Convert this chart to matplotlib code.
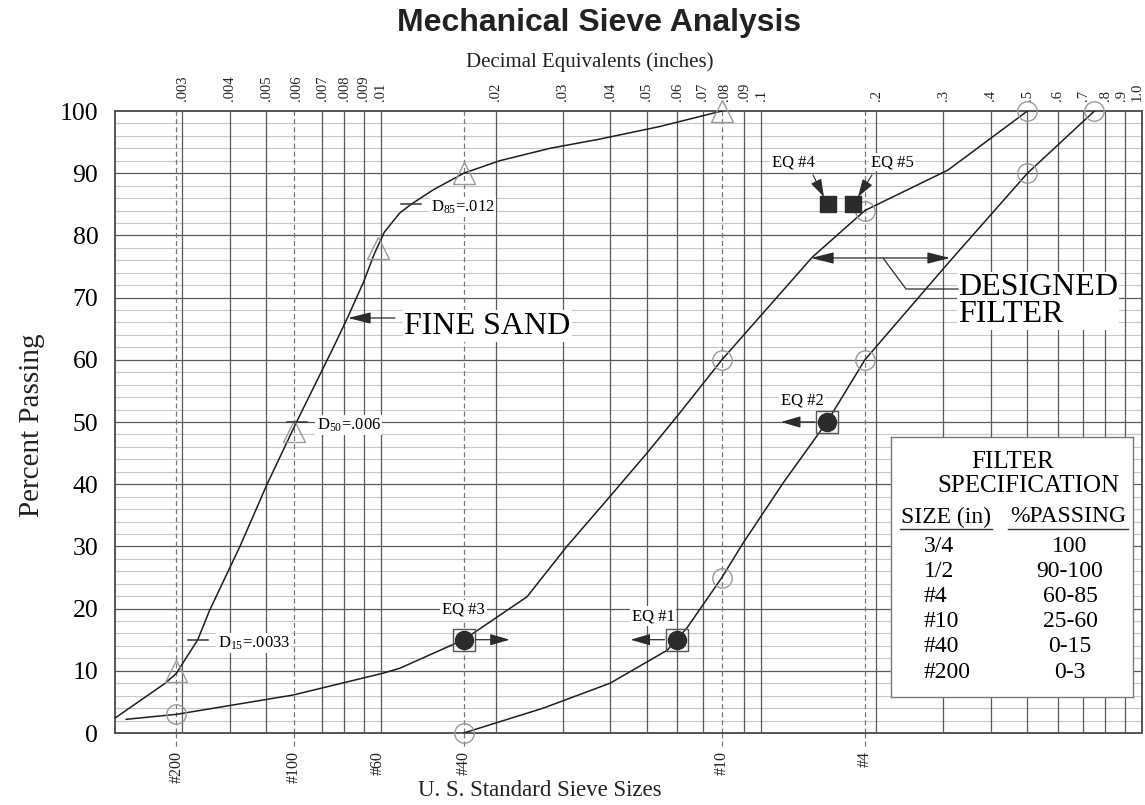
import numpy as np
import matplotlib
matplotlib.use('Agg')
import matplotlib.pyplot as plt

plt.rcParams['font.family'] = ['Liberation Serif', 'DejaVu Serif']
plt.rcParams['mathtext.fontset'] = 'custom'
plt.rcParams['mathtext.rm'] = 'Liberation Serif'
plt.rcParams['mathtext.it'] = 'Liberation Serif:italic'

# ---------------- data ----------------
decimal_ticks = [0.003, 0.004, 0.005, 0.006, 0.007, 0.008, 0.009, 0.01, 0.02, 0.03, 0.04,
                 0.05, 0.06, 0.07, 0.08, 0.09, 0.1, 0.2, 0.3, 0.4, 0.5, 0.6, 0.7, 0.8, 0.9, 1.0]
decimal_labels = ['.003', '.004', '.005', '.006', '.007', '.008', '.009', '.01', '.02', '.03', '.04',
                  '.05', '.06', '.07', '.08', '.09', '.1', '.2', '.3', '.4', '.5', '.6', '.7', '.8', '.9', '1.0']
solid_grid = [0.003, 0.004, 0.005, 0.007, 0.008, 0.009, 0.01, 0.02, 0.03, 0.04, 0.05, 0.06,
              0.07, 0.09, 0.1, 0.2, 0.3, 0.4, 0.5, 0.6, 0.7, 0.8, 0.9]
sieve_labels = ['#200', '#100', '#60', '#40', '#10', '#4']
sieve_sizes = [0.0029, 0.0059, 0.0098, 0.0165, 0.0787, 0.187]
dashed_sieves = [0.0029, 0.0059, 0.0165, 0.0787, 0.187]

sand_size = [0.002, 0.00271, 0.0029, 0.0033, 0.00355, 0.00426, 0.00502, 0.006, 0.0075, 0.0082,
             0.009, 0.0096, 0.0102, 0.0112, 0.012, 0.0137, 0.0165, 0.0205, 0.0278, 0.0377, 0.054, 0.0787]
sand_pct = [2.4, 8.0, 9.6, 15, 19.8, 30, 40, 50, 62, 67, 72.5, 77, 80.5, 83.6, 85, 87.3, 90, 92, 94,
            95.5, 97.5, 100]

filt_fine_size = [0.00214, 0.0029, 0.00587, 0.0101, 0.0112, 0.0165, 0.0242, 0.0308, 0.0393, 0.050,
                  0.0598, 0.0787, 0.136, 0.187, 0.309, 0.5]
filt_fine_pct = [2.2, 3.0, 6.1, 9.6, 10.4, 15, 21.9, 30, 37.5, 45, 50.8, 60, 76.5, 84, 90.5, 100]

filt_coarse_size = [0.0165, 0.0267, 0.040, 0.0565, 0.0637, 0.0787, 0.0894, 0.114, 0.1486, 0.187,
                    0.309, 0.5, 0.75]
filt_coarse_pct = [0, 4, 8, 13.3, 16.9, 25, 30.5, 40.2, 50, 60, 75.5, 90, 100]

spec_circle_size = [0.0029, 0.0165, 0.0787, 0.0787, 0.187, 0.187, 0.5, 0.5, 0.75]
spec_circle_pct = [3, 0, 60, 25, 84, 60, 100, 90, 100]

sand_tri_size = [0.0029, 0.0059, 0.0098, 0.0165, 0.0787]
sand_tri_pct = [10, 48.5, 78, 90, 100]

eq_names = ['EQ #1', 'EQ #2', 'EQ #3']
eq_size = [0.0598, 0.1486, 0.0165]
eq_pct = [15, 50, 15]
eq_dir = [-1, -1, 1]

eq2_names = ['EQ #4', 'EQ #5']
eq2_size = [0.150, 0.174]
eq2_pct = [85, 85]

d_names = [r'D$_{15}$=.0033', r'D$_{50}$=.006', r'D$_{85}$=.012']
d_size = [0.0033, 0.006, 0.012]
d_pct = [15, 50, 85]

spec_sizes = ['3/4', '1/2', '#4', '#10', '#40', '#200']
spec_passing = ['100', '90-100', '60-85', '25-60', '0-15', '0-3']

# ---------------- layout helpers ----------------
W, H = 1145, 805
X0, X1, Y0, Y1 = 115, 1142, 733, 111
PPD = (X1 - X0) / np.log10(1.0 / 0.002)


def px2d(x):
    return 0.002 * 10 ** ((x - X0) / PPD)


def py2p(y):
    return (Y0 - y) / (Y0 - Y1) * 100


fig = plt.figure(figsize=(W / 100, H / 100), dpi=100)
ax = fig.add_axes([X0 / W, (H - Y0) / H, (X1 - X0) / W, (Y0 - Y1) / H])
ax.set_xscale('log')
ax.set_xlim(0.002, 1.0)
ax.set_ylim(0, 100)
ax.xaxis.set_major_locator(matplotlib.ticker.NullLocator())
ax.xaxis.set_minor_locator(matplotlib.ticker.NullLocator())
ax.set_yticks(range(0, 101, 10))
ax.set_yticklabels([str(v) for v in range(0, 101, 10)], fontsize=18.5)
ax.tick_params(axis='y', length=0, pad=12)
for s in ax.spines.values():
    s.set_color('#555555')
    s.set_linewidth(1.4)

grid_col = '#5a5a5a'
for y in range(2, 100, 2):
    if y % 10:
        ax.axhline(y, color='#c8c8c8', lw=0.8, zorder=0)
for y in range(10, 100, 10):
    ax.axhline(y, color=grid_col, lw=0.9, zorder=0.5)
for d in solid_grid:
    ax.axvline(d, color=grid_col, lw=0.9, zorder=0.5)
for d in dashed_sieves:
    ax.axvline(d, color='#777777', lw=0.9, ls=(0, (4, 2.5)), zorder=0.5)
    ax.plot([d, d], [0, -2.6], color='#777777', lw=0.9, ls=(0, (4, 2.5)), clip_on=False)

# top decimal labels (last two nudged apart so they stay readable at the edge)
label_nudge = {'.9': px2d(1121), '1.0': px2d(1137)}
for d, lab in zip(decimal_ticks, decimal_labels):
    xd = label_nudge.get(lab, d)
    ax.text(xd, 100 + 1.6, lab, rotation=90, ha='center', va='bottom', fontsize=10.5,
            color='#222222')
# bottom sieve labels
for d, lab in zip(sieve_sizes, sieve_labels):
    ax.text(d, -2.9, lab, rotation=90, ha='center', va='top', fontsize=11.5, color='#222222')

# curves
lc = '#1e1e1e'
ax.plot(sand_size, sand_pct, color=lc, lw=1.1, zorder=3)
ax.plot(filt_fine_size, filt_fine_pct, color=lc, lw=1.1, zorder=3)
ax.plot(filt_coarse_size, filt_coarse_pct, color=lc, lw=1.1, zorder=3)

ax.plot(spec_circle_size, spec_circle_pct, 'o', mfc='none', mec='#9a9a9a', ms=14, mew=1.0,
        ls='none', clip_on=False, zorder=4)
ax.plot(sand_tri_size, sand_tri_pct, '^', mfc='none', mec='#9a9a9a', ms=16, mew=1.0,
        ls='none', clip_on=False, zorder=4)

# EQ markers 1-3
for name, d, p, dr in zip(eq_names, eq_size, eq_pct, eq_dir):
    ax.plot(d, p, 's', mfc='none', mec='#555555', ms=16, mew=1.0, zorder=5)
    ax.plot(d, p, 'o', color='#2b2b2b', ms=13, zorder=6)
    ax.annotate('', xy=(d * 10 ** (dr * 46 / PPD), p), xytext=(d * 10 ** (dr * 12 / PPD), p),
                arrowprops=dict(arrowstyle='-|>,head_length=1.2,head_width=0.35', color='#2b2b2b',
                                lw=0.9, shrinkA=0, shrinkB=0), zorder=6)
ax.text(0.0165, 19.8, 'EQ #3', ha='center', va='center', fontsize=12,
        bbox=dict(fc='white', ec='none', pad=1.5), zorder=4)
ax.text(px2d(653), py2p(616), 'EQ #1', ha='center', va='center', fontsize=12,
        bbox=dict(fc='white', ec='none', pad=1.5), zorder=4)
ax.text(px2d(802), py2p(400), 'EQ #2', ha='center', va='center', fontsize=12,
        bbox=dict(fc='white', ec='none', pad=1.5), zorder=4)

# EQ 4 & 5
ax.plot(eq2_size, eq2_pct, 's', color='#2b2b2b', ms=12, ls='none', zorder=6)
ax.text(px2d(793), py2p(162), 'EQ #4', ha='center', va='center', fontsize=12,
        bbox=dict(fc='white', ec='none', pad=1), zorder=4)
ax.text(px2d(892), py2p(162), 'EQ #5', ha='center', va='center', fontsize=12,
        bbox=dict(fc='white', ec='none', pad=1), zorder=4)
ax.annotate('', xy=(px2d(824), py2p(197)), xytext=(px2d(813), py2p(175)),
            arrowprops=dict(arrowstyle='-|>,head_length=1.1,head_width=0.35', color='#2b2b2b',
                            lw=0.8, shrinkA=0, shrinkB=0), zorder=6)
ax.annotate('', xy=(px2d(858), py2p(197)), xytext=(px2d(872), py2p(175)),
            arrowprops=dict(arrowstyle='-|>,head_length=1.1,head_width=0.35', color='#2b2b2b',
                            lw=0.8, shrinkA=0, shrinkB=0), zorder=6)

# D labels
for name, d, p in zip(d_names, d_size, d_pct):
    ax.plot([d * 10 ** (-10 / PPD), d * 10 ** (10 / PPD)], [p, p], color='#333333', lw=1.1, zorder=5)
    ax.text(d * 10 ** (20 / PPD), p - 0.5, name, ha='left', va='center', fontsize=12,
            bbox=dict(fc='white', ec='none', pad=1), zorder=4)

# FINE SAND annotation
ax.annotate('', xy=(px2d(348), py2p(318)), xytext=(px2d(395), py2p(318)),
            arrowprops=dict(arrowstyle='-|>,head_length=1.4,head_width=0.35', color='#2b2b2b',
                            lw=0.9, shrinkA=0, shrinkB=0), zorder=6)
ax.text(px2d(404), py2p(326), 'FINE SAND', ha='left', va='center', fontsize=23,
        bbox=dict(fc='white', ec='none', pad=1), zorder=4)

# DESIGNED FILTER annotation
ya = py2p(258)
ax.annotate('', xy=(px2d(811), ya), xytext=(px2d(880), ya),
            arrowprops=dict(arrowstyle='-|>,head_length=1.4,head_width=0.35', color='#2b2b2b',
                            lw=0.9, shrinkA=0, shrinkB=0), zorder=6)
ax.annotate('', xy=(px2d(950), ya), xytext=(px2d(880), ya),
            arrowprops=dict(arrowstyle='-|>,head_length=1.4,head_width=0.35', color='#2b2b2b',
                            lw=0.9, shrinkA=0, shrinkB=0), zorder=6)
ax.plot([px2d(883), px2d(906), px2d(958)], [ya, py2p(289), py2p(289)], color='#2b2b2b', lw=0.9,
        zorder=6)
ax.text(px2d(958), py2p(301), 'DESIGNED\nFILTER', ha='left', va='center', fontsize=23,
        linespacing=0.92, bbox=dict(fc='white', ec='none', pad=1), zorder=4)

# FILTER SPECIFICATION box
bx0, bx1, by0, by1 = 891, 1133, 437, 697
lax = fig.add_axes([bx0 / W, (H - by1) / H, (bx1 - bx0) / W, (by1 - by0) / H])
lax.set_xlim(bx0, bx1)
lax.set_ylim(by1, by0)
lax.set_xticks([])
lax.set_yticks([])
for s in lax.spines.values():
    s.set_color('#777777')
    s.set_linewidth(1.0)
lax.text(1013, 462, 'FILTER', ha='center', va='center', fontsize=18)
lax.text(1028, 486, 'SPECIFICATION', ha='center', va='center', fontsize=18)
lax.text(946, 517, 'SIZE (in)', ha='center', va='center', fontsize=17)
lax.text(1068, 517, '%PASSING', ha='center', va='center', fontsize=17)
lax.plot([900, 992], [529, 529], color='#333333', lw=1)
lax.plot([1008, 1128], [529, 529], color='#333333', lw=1)
for i, (sz, ps) in enumerate(zip(spec_sizes, spec_passing)):
    yy = 546 + i * 25.2
    lax.text(924, yy, sz, ha='left', va='center', fontsize=17)
    lax.text(1070, yy, ps, ha='center', va='center', fontsize=17)

# titles
fig.text(599 / W, 1 - 23 / H, 'Mechanical Sieve Analysis', ha='center', va='center', fontsize=23,
         fontweight='bold', family=['Liberation Sans', 'DejaVu Sans'], color='#222222')
fig.text(590 / W, 1 - 62 / H, 'Decimal Equivalents (inches)', ha='center', va='center',
         fontsize=15, color='#222222')
fig.text(540 / W, 1 - 790 / H, 'U. S. Standard Sieve Sizes', ha='center', va='center',
         fontsize=16.5, color='#222222')
fig.text(32 / W, 1 - 425 / H, 'Percent Passing', ha='center', va='center', rotation=90,
         fontsize=21, color='#222222')

fig.savefig('out.png', dpi=100, facecolor='white')
